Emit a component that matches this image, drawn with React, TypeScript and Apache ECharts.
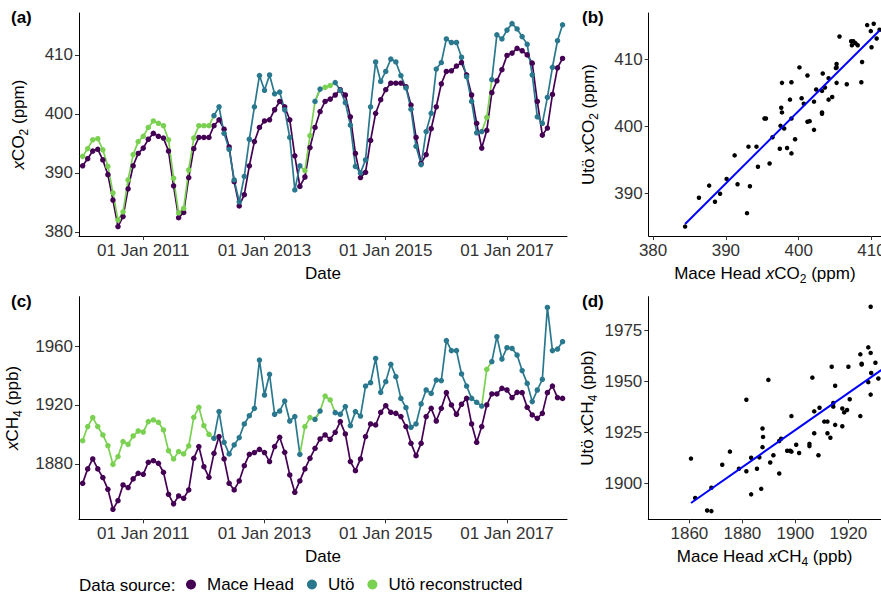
import React, { useEffect, useRef } from "react";
import * as echarts from "echarts";

// ---------- data ----------
const START_YEAR = 2010;
const N_MONTHS = 96; // Jan 2010 .. Dec 2017, monthly
const monthPositions: number[] = Array.from({ length: N_MONTHS }, (_, i) => START_YEAR + i / 12);
const dateTickYears = [2011, 2013, 2015, 2017];

const co2MaceHead = [
  391.2, 392.4, 393.7, 394.0, 392.2, 389.7, 385.4, 380.9, 382.6, 387.3, 391.2, 393.3,
  394.2, 395.7, 396.7, 396.2, 395.9, 393.7, 387.8, 382.4, 383.3, 389.2, 394.1, 396.0,
  396.0, 396.0, 398.0, 399.0, 397.4, 394.4, 388.5, 384.4, 386.3, 391.2, 395.3, 397.7,
  398.8, 399.0, 400.7, 402.1, 401.2, 399.0, 392.9, 387.7, 389.3, 394.3, 397.7, 400.4,
  402.1, 402.5, 403.2, 404.1, 403.2, 399.5, 393.3, 389.2, 390.1, 395.5, 400.1, 402.4,
  404.1, 405.2, 405.2, 405.2, 404.6, 401.5, 396.0, 391.6, 393.1, 397.5, 401.2, 405.1,
  407.2, 407.3, 408.1, 408.7, 406.6, 403.2, 398.4, 394.2, 397.2, 403.6, 405.6, 407.5,
  409.9, 410.3, 411.1, 410.7, 410.0, 408.6, 402.1, 396.4, 397.6, 403.3, 407.8, 409.4,
];
const co2Uto: (number | null)[] = [
  null, null, null, null, null, null, null, null, null, null, null, null,
  null, null, null, null, null, null, null, null, null, null, null, null,
  null, null, 399.7, 401.2, 396.7, 394.0, 388.8, 385.1, 389.4, 395.7, 401.2, 406.5,
  404.0, 406.6, 403.4, 403.7, 400.7, 396.0, 387.1, 391.2, null, null, 402.1, 404.2,
  null, null, 405.3, 404.0, 401.9, 398.1, 391.1, 390.0, 392.2, 401.2, 408.8, 405.5,
  407.2, 409.3, 408.8, 406.5, 404.4, 400.8, 394.5, 391.4, 397.0, 400.1, 407.6, 408.7,
  412.7, 412.1, 412.1, 409.6, 406.3, 402.1, 396.8, 397.0, null, 405.8, 413.4, 412.7,
  414.2, 415.3, 414.4, 413.1, 411.8, 406.6, 399.5, 398.4, 402.8, 407.9, 412.4, 415.1,
];
const co2UtoRecon: (number | null)[] = [
  392.8, 394.1, 395.6, 395.8, 393.9, 391.1, 386.6, 382.0, 383.4, 388.8, 393.1, 395.3,
  396.2, 397.7, 398.8, 398.4, 398.0, 395.6, 389.1, 383.2, 384.0, 390.5, 395.9, 398.0,
  398.0, 398.0, null, null, null, null, null, null, null, null, null, null,
  null, null, null, null, null, null, null, null, 390.4, 396.3, null, null,
  404.5, 404.8, null, null, null, null, null, null, null, null, null, null,
  null, null, null, null, null, null, null, null, null, null, null, null,
  null, null, null, null, null, null, null, null, 399.4, null, null, null,
  null, null, null, null, null, null, null, null, null, null, null, null,
];

const ch4MaceHead = [
  1866.7, 1876.5, 1883.3, 1876.5, 1870.6, 1862.6, 1849.0, 1854.9, 1865.6, 1863.8, 1869.7, 1873.5,
  1872.8, 1881.0, 1882.1, 1880.3, 1874.2, 1859.2, 1852.7, 1858.1, 1856.5, 1862.2, 1883.7, 1891.7,
  1878.0, 1870.8, 1887.1, 1898.5, 1883.3, 1866.7, 1862.2, 1868.3, 1878.7, 1886.4, 1887.6, 1889.8,
  1887.6, 1881.5, 1891.7, 1898.0, 1887.8, 1872.4, 1860.6, 1868.3, 1876.5, 1883.7, 1890.5, 1896.9,
  1899.6, 1896.6, 1901.4, 1908.7, 1900.3, 1881.5, 1875.3, 1883.3, 1898.5, 1907.1, 1906.4, 1915.0,
  1919.5, 1915.0, 1914.3, 1912.1, 1905.3, 1893.9, 1885.5, 1893.9, 1912.1, 1917.7, 1909.1, 1917.7,
  1928.4, 1920.0, 1913.7, 1920.5, 1924.5, 1907.1, 1894.6, 1905.3, 1920.0, 1927.5, 1927.5, 1931.3,
  1930.2, 1925.0, 1928.6, 1928.4, 1918.4, 1913.2, 1910.9, 1914.3, 1928.4, 1932.9, 1925.0, 1924.5,
];
const ch4Uto: (number | null)[] = [
  null, null, null, null, null, null, null, null, null, null, null, null,
  null, null, null, null, null, null, null, null, null, null, null, null,
  null, null, 1897.3, 1915.5, 1894.6, 1886.7, 1892.8, 1897.8, 1907.1, 1912.7, 1917.7, 1950.6,
  1926.8, 1940.9, 1913.7, 1915.9, 1922.7, 1909.1, 1912.1, 1886.4, null, null, 1910.2, 1915.9,
  null, null, 1914.8, 1913.7, 1918.9, 1905.9, 1915.5, 1912.5, 1932.9, 1935.2, 1951.7, 1928.6,
  1935.9, 1947.7, 1939.3, 1924.5, 1918.2, 1904.8, 1907.1, 1920.7, 1930.2, 1927.9, 1937.0, 1936.6,
  1963.8, 1957.0, 1957.0, 1941.1, 1932.9, 1924.5, 1921.8, 1919.3, null, 1949.5, 1966.5, 1951.3,
  1959.0, 1958.5, 1954.0, 1943.4, 1934.7, 1922.3, 1930.2, 1937.5, 1986.4, 1957.0, 1958.1, 1963.1,
];
const ch4UtoRecon: (number | null)[] = [
  1895.7, 1905.3, 1911.4, 1905.3, 1899.6, 1892.3, 1879.6, 1884.9, 1895.1, 1893.2, 1898.9, 1902.3,
  1901.6, 1908.7, 1909.8, 1908.2, 1903.0, 1888.9, 1883.3, 1888.3, 1886.7, 1892.1, 1911.6, 1918.4,
  1905.9, 1900.0, null, null, null, null, null, null, null, null, null, null,
  null, null, null, null, null, null, null, null, 1905.3, 1911.4, null, null,
  1926.1, 1923.4, null, null, null, null, null, null, null, null, null, null,
  null, null, null, null, null, null, null, null, null, null, null, null,
  null, null, null, null, null, null, null, null, 1944.3, null, null, null,
  null, null, null, null, null, null, null, null, null, null, null, null,
];

const co2TimeTicks = [380, 390, 400, 410];
const ch4TimeTicks = [1880, 1920, 1960];
const co2ScatterXTicks = [380, 390, 400, 410];
const co2ScatterYTicks = [390, 400, 410];
const ch4ScatterXTicks = [1860, 1880, 1900, 1920];
const ch4ScatterYTicks = [1900, 1925, 1950, 1975];

const SOURCE_NAMES = ["Mace Head", "Utö", "Utö reconstructed"];
const SOURCE_COLORS = ["#440154", "#2A788E", "#7AD151"];

// ---------- helpers ----------
const FONT = "'Liberation Sans', Arial, Helvetica, sans-serif";
const FS = 17;

function linePairs(vals: (number | null)[]) {
  return vals.map((v, i) => [monthPositions[i], v == null ? "-" : v]);
}
function pointPairs(vals: (number | null)[]) {
  const out: number[][] = [];
  vals.forEach((v, i) => {
    if (v != null) out.push([monthPositions[i], v]);
  });
  return out;
}
// reconstructed line joined to the neighbouring measured months
function bridged(recon: (number | null)[], measured: (number | null)[]) {
  return recon.map((v, i) => {
    if (v != null) return v;
    const prev = i > 0 ? recon[i - 1] : null;
    const next = i < recon.length - 1 ? recon[i + 1] : null;
    if ((prev != null || next != null) && measured[i] != null) return measured[i];
    return null;
  });
}
function scatterPairs(xs: number[], ys: (number | null)[]) {
  const out: number[][] = [];
  ys.forEach((y, i) => {
    if (y != null) out.push([xs[i], y]);
  });
  return out;
}
function fitLine(pts: number[][]) {
  const n = pts.length;
  const mx = pts.reduce((s, p) => s + p[0], 0) / n;
  const my = pts.reduce((s, p) => s + p[1], 0) / n;
  let sxy = 0, sxx = 0;
  pts.forEach((p) => {
    sxy += (p[0] - mx) * (p[1] - my);
    sxx += (p[0] - mx) * (p[0] - mx);
  });
  const b = sxy / sxx;
  const a = my - b * mx;
  const xmin = Math.min(...pts.map((p) => p[0]));
  const xmax = Math.max(...pts.map((p) => p[0]));
  return [[xmin, a + b * xmin], [xmax, a + b * xmax]];
}

const rich = {
  i: { fontStyle: "italic", fontSize: FS, fontFamily: FONT, color: "#000", lineHeight: 23 },
  n: { fontSize: FS, fontFamily: FONT, color: "#000", lineHeight: 23 },
  sub: { fontSize: 12, fontFamily: FONT, color: "#000", lineHeight: 12, verticalAlign: "bottom" },
};
const nameStyle = { fontSize: FS, fontFamily: FONT, color: "#000", lineHeight: 23, rich };

function axisBase(gridIndex: number, min: number, max: number, ticks: number[], fmt?: (v: number) => string) {
  return {
    type: "value",
    gridIndex,
    min,
    max,
    splitLine: { show: false },
    axisLine: { show: true, onZero: false, lineStyle: { color: "#000", width: 1 } },
    axisTick: { show: true, length: 4, customValues: ticks, lineStyle: { color: "#333", width: 1 } },
    axisLabel: {
      show: true,
      customValues: ticks,
      margin: 6,
      fontSize: FS,
      fontFamily: FONT,
      color: "#333",
      hideOverlap: false,
      formatter: fmt ? (v: number) => fmt(v) : (v: number) => String(v),
    },
    nameLocation: "middle",
    nameTextStyle: nameStyle,
  };
}

export default function App() {
  const ref = useRef<HTMLDivElement>(null);

  useEffect(() => {
    document.body.style.margin = "0";
    if (!ref.current) return;
    const chart = echarts.init(ref.current, undefined, { renderer: "svg" });

    const dateFmt = (v: number) => "01 Jan " + Math.round(v);

    const co2Pts = scatterPairs(co2MaceHead, co2Uto);
    const ch4Pts = scatterPairs(ch4MaceHead, ch4Uto);

    const timeSeries = (idx: number, mh: number[], uto: (number | null)[], rec: (number | null)[]) => {
      const lineSets = [mh, uto, bridged(rec, uto)];
      const pointSets = [mh, uto, rec];
      const lines = lineSets.map((vals, k) => ({
        type: "line",
        name: SOURCE_NAMES[k],
        xAxisIndex: idx,
        yAxisIndex: idx,
        data: linePairs(vals),
        showSymbol: false,
        symbol: "none",
        connectNulls: false,
        lineStyle: { color: SOURCE_COLORS[k], width: 1.7 },
        itemStyle: { color: SOURCE_COLORS[k] },
        z: 2,
      }));
      const points = pointSets.map((vals, k) => ({
        type: "scatter",
        name: SOURCE_NAMES[k],
        xAxisIndex: idx,
        yAxisIndex: idx,
        data: pointPairs(vals),
        symbol: "circle",
        symbolSize: 5.5,
        itemStyle: { color: SOURCE_COLORS[k], opacity: 1 },
        z: 3,
      }));
      return [...lines, ...points];
    };

    const scatterSeries = (idx: number, pts: number[][]) => [
      {
        type: "scatter",
        name: "pts" + idx,
        xAxisIndex: idx,
        yAxisIndex: idx,
        data: pts,
        symbolSize: 4.5,
        itemStyle: { color: "#000", opacity: 1 },
        z: 3,
      },
      {
        type: "line",
        name: "fit" + idx,
        xAxisIndex: idx,
        yAxisIndex: idx,
        data: fitLine(pts),
        showSymbol: false,
        symbol: "none",
        lineStyle: { color: "#0000FF", width: 2 },
        itemStyle: { color: "#0000FF" },
        z: 4,
      },
    ];

    const gridBase = { containLabel: false, outerBoundsMode: "none" };

    const option: any = {
      animation: false,
      backgroundColor: "#fff",
      textStyle: { fontFamily: FONT },
      grid: [
        { ...gridBase, left: 79, top: 13, width: 488, height: 223 },
        { ...gridBase, left: 648.7, top: 13, width: 232.3, height: 223 },
        { ...gridBase, left: 79, top: 296.7, width: 488, height: 222.6 },
        { ...gridBase, left: 648.3, top: 296.7, width: 232.7, height: 222.6 },
      ],
      xAxis: [
        { ...axisBase(0, 2009.94, 2017.99, dateTickYears, dateFmt), name: "Date", nameGap: 26 },
        {
          ...axisBase(1, 379.4, 411.3, co2ScatterXTicks),
          name: "{n|Mace Head }{i|x}{n|CO}{sub|2}{n| (ppm)}",
          nameGap: 26,
        },
        { ...axisBase(2, 2009.94, 2017.99, dateTickYears, dateFmt), name: "Date", nameGap: 26 },
        {
          ...axisBase(3, 1844.5, 1932.3, ch4ScatterXTicks),
          name: "{n|Mace Head }{i|x}{n|CH}{sub|4}{n| (ppb)}",
          nameGap: 26,
        },
      ],
      yAxis: [
        { ...axisBase(0, 379.3, 417.1, co2TimeTicks), name: "{i|x}{n|CO}{sub|2}{n| (ppm)}", nameGap: 49 },
        { ...axisBase(1, 383.7, 416.9, co2ScatterYTicks), name: "{n|Utö }{i|x}{n|CO}{sub|2}{n| (ppm)}", nameGap: 49 },
        { ...axisBase(2, 1842.2, 1993.7, ch4TimeTicks), name: "{i|x}{n|CH}{sub|4}{n| (ppb)}", nameGap: 49 },
        { ...axisBase(3, 1882.4, 1991.3, ch4ScatterYTicks), name: "{n|Utö }{i|x}{n|CH}{sub|4}{n| (ppb)}", nameGap: 49 },
      ],
      legend: {
        data: SOURCE_NAMES,
        left: 186,
        top: 576,
        padding: 0,
        icon: "circle",
        itemWidth: 10,
        itemHeight: 10,
        itemGap: 13,
        textStyle: { fontSize: FS, fontFamily: FONT, color: "#000", padding: [0, 0, 0, 6] },
        selectedMode: false,
      },
      graphic: [
        { type: "text", left: 11, top: 9, style: { text: "(a)", font: `bold ${FS}px ${FONT}`, fill: "#000" } },
        { type: "text", left: 582, top: 9, style: { text: "(b)", font: `bold ${FS}px ${FONT}`, fill: "#000" } },
        { type: "text", left: 11, top: 293, style: { text: "(c)", font: `bold ${FS}px ${FONT}`, fill: "#000" } },
        { type: "text", left: 582, top: 293, style: { text: "(d)", font: `bold ${FS}px ${FONT}`, fill: "#000" } },
        {
          type: "text",
          left: 79,
          top: 577,
          style: { text: "Data source:", font: `${FS}px ${FONT}`, fill: "#000" },
        },
      ],
      series: [
        ...timeSeries(0, co2MaceHead, co2Uto, co2UtoRecon),
        ...scatterSeries(1, co2Pts),
        ...timeSeries(2, ch4MaceHead, ch4Uto, ch4UtoRecon),
        ...scatterSeries(3, ch4Pts),
      ],
    };

    chart.setOption(option);
    return () => chart.dispose();
  }, []);

  return <div ref={ref} style={{ width: 881, height: 594 }} />;
}
